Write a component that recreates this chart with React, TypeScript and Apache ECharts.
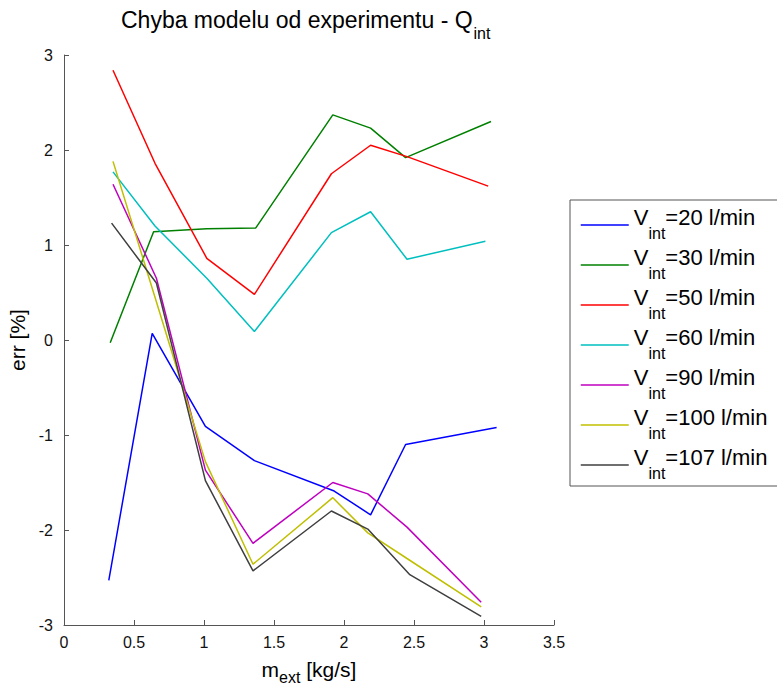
import React, { useEffect, useRef } from "react";
import * as echarts from "echarts";

const flowLabels = ["20 l/min", "30 l/min", "50 l/min", "60 l/min", "90 l/min", "100 l/min", "107 l/min"];
const colors = ["#0000ff", "#008000", "#ff0000", "#00bfbf", "#bf00bf", "#bfbf00", "#3f3f3f"];

const xV20 = [0.32, 0.63, 1.01, 1.36, 1.93, 2.19, 2.44, 3.09];
const errV20 = [-2.53, 0.07, -0.91, -1.27, -1.59, -1.84, -1.1, -0.92];
const xV30 = [0.33, 0.64, 1.02, 1.37, 1.92, 2.19, 2.44, 3.05];
const errV30 = [-0.03, 1.14, 1.17, 1.18, 2.37, 2.23, 1.92, 2.3];
const xV50 = [0.35, 0.65, 1.02, 1.36, 1.91, 2.19, 2.45, 3.03];
const errV50 = [2.84, 1.86, 0.86, 0.48, 1.75, 2.05, 1.93, 1.62];
const xV60 = [0.35, 0.65, 1.02, 1.36, 1.91, 2.19, 2.45, 3.01];
const errV60 = [1.77, 1.2, 0.65, 0.09, 1.13, 1.35, 0.85, 1.04];
const xV90 = [0.35, 0.66, 1.01, 1.35, 1.92, 2.17, 2.45, 2.98];
const errV90 = [1.64, 0.65, -1.37, -2.14, -1.5, -1.62, -1.97, -2.76];
const xV100 = [0.35, 0.65, 1.01, 1.35, 1.92, 2.17, 2.45, 2.98];
const errV100 = [1.88, 0.45, -1.28, -2.36, -1.66, -2.03, -2.3, -2.81];
const xV107 = [0.34, 0.66, 1.01, 1.35, 1.91, 2.17, 2.47, 2.98];
const errV107 = [1.23, 0.6, -1.48, -2.43, -1.8, -1.99, -2.47, -2.91];

const xs = [xV20, xV30, xV50, xV60, xV90, xV100, xV107];
const ys = [errV20, errV30, errV50, errV60, errV90, errV100, errV107];

const FONT = "Liberation Sans, Arial, Helvetica, sans-serif";

export default function App() {
  const ref = useRef<HTMLDivElement>(null);
  useEffect(() => {
    if (!ref.current) return;
    const chart = echarts.init(ref.current, null, { renderer: "svg" });
    const series = flowLabels.map((lab, i) => ({
      name: "Vint=" + lab,
      type: "line",
      symbol: "none",
      showSymbol: false,
      data: xs[i].map((x, j) => [x, ys[i][j]]),
      lineStyle: { color: colors[i], width: 1.5 },
      itemStyle: { color: colors[i] },
    }));
    chart.setOption({
      animation: false,
      backgroundColor: "#ffffff",
      title: {
        text: "{t|Chyba modelu od experimentu - Q}{s|int}",
        left: 121,
        top: 8,
        padding: 0,
        textStyle: {
          fontFamily: FONT,
          fontWeight: "normal",
          rich: {
            t: { fontSize: 23, fontFamily: FONT, color: "#000", lineHeight: 26, verticalAlign: "top" },
            s: { fontSize: 16, fontFamily: FONT, color: "#000", lineHeight: 18, padding: [17, 0, 0, 1], verticalAlign: "top" },
          },
        },
      },
      grid: { left: 64, right: 223, top: 55, bottom: 59, containLabel: false, outerBoundsMode: "none" },
      legend: {
        orient: "vertical",
        left: 570,
        top: 200,
        padding: [6, 40, 5, 10],
        itemWidth: 48,
        itemHeight: 10,
        itemGap: 5,
        borderColor: "#555",
        borderWidth: 1,
        backgroundColor: "#fff",
        itemStyle: { opacity: 0 },
        lineStyle: { width: 1.5 },
        data: series.map((s) => s.name),
        formatter: (name: string) => "{v|V}{s|int}{v|=" + name.split("=")[1] + "}",
        textStyle: {
          fontFamily: FONT,
          rich: {
            v: { fontSize: 22, fontFamily: FONT, color: "#000", lineHeight: 24, verticalAlign: "top" },
            s: { fontSize: 16, fontFamily: FONT, color: "#000", lineHeight: 38, padding: [19, 0, 0, 0], verticalAlign: "top" },
          },
        },
      },
      xAxis: {
        type: "value",
        min: 0,
        max: 3.5,
        interval: 0.5,
        name: "{m|m}{s|ext}{m| [kg/s]}",
        nameLocation: "middle",
        nameGap: 34,
        nameTextStyle: {
          fontFamily: FONT,
          rich: {
            m: { fontSize: 21, fontFamily: FONT, color: "#000", lineHeight: 22, verticalAlign: "top" },
            s: { fontSize: 16, fontFamily: FONT, color: "#000", lineHeight: 16, padding: [10, 0, 0, 0], verticalAlign: "top" },
          },
        },
        axisLine: { show: true, onZero: false, lineStyle: { color: "#555", width: 1 } },
        axisTick: { show: true, inside: true, length: 5, lineStyle: { color: "#555" } },
        axisLabel: { fontSize: 16, fontFamily: FONT, color: "#111", margin: 9 },
        splitLine: { show: false },
      },
      yAxis: {
        type: "value",
        min: -3,
        max: 3,
        interval: 1,
        name: "err [%]",
        nameLocation: "middle",
        nameGap: 27,
        nameTextStyle: { fontSize: 21, fontFamily: FONT, color: "#000" },
        axisLine: { show: true, onZero: false, lineStyle: { color: "#555", width: 1 } },
        axisTick: { show: true, inside: true, length: 5, lineStyle: { color: "#555" } },
        axisLabel: { fontSize: 16, fontFamily: FONT, color: "#111", margin: 11 },
        splitLine: { show: false },
      },
      series,
    });
    return () => chart.dispose();
  }, []);
  return <div ref={ref} style={{ width: 777, height: 684, position: "absolute", left: 0, top: 0 }} />;
}
